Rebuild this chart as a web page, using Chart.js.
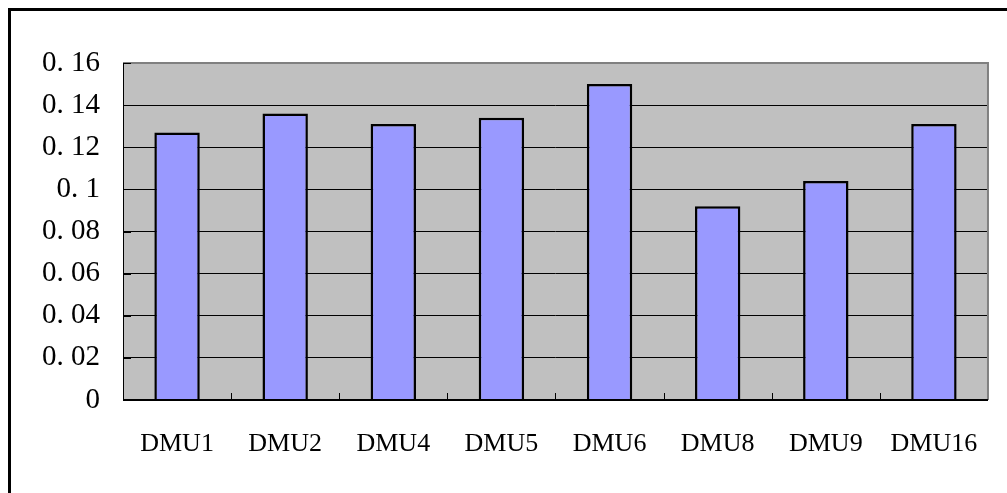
<!DOCTYPE html>
<html><head><meta charset="utf-8">
<script src="https://cdn.jsdelivr.net/npm/chart.js@4/dist/chart.umd.min.js"></script>
<style>html,body{margin:0;padding:0;background:#fff;}#wrap{position:absolute;left:0;top:0;width:1007px;height:493px;}</style>
</head><body><div id="wrap"><canvas id="c" width="1007" height="493"></canvas></div>
<script>
const categories = ['DMU1','DMU2','DMU4','DMU5','DMU6','DMU8','DMU9','DMU16'];
const values = [0.127, 0.136, 0.131, 0.134, 0.150, 0.092, 0.104, 0.131];
const yTickLabels = ['0','0. 02','0. 04','0. 06','0. 08','0. 1','0. 12','0. 14','0. 16'];

const decor = {
  id: 'decor',
  beforeDraw(chart) {
    const {ctx, chartArea: a} = chart;
    ctx.save();
    ctx.fillStyle = '#C0C0C0';
    ctx.fillRect(a.left, a.top, a.right - a.left, a.bottom - a.top);
    ctx.restore();
  },
  afterDatasetsDraw(chart) {
    const {ctx, chartArea: a, scales} = chart;
    ctx.save();
    ctx.strokeStyle = '#808080';
    ctx.lineWidth = 2;
    ctx.beginPath();
    ctx.moveTo(a.left, a.top); ctx.lineTo(a.right, a.top); ctx.lineTo(a.right, a.bottom);
    ctx.stroke();
    ctx.strokeStyle = '#000';
    ctx.lineWidth = 1;
    ctx.beginPath();
    ctx.moveTo(a.left + 0.5, a.top); ctx.lineTo(a.left + 0.5, a.bottom);
    ctx.stroke();
    ctx.lineWidth = 2;
    ctx.beginPath();
    ctx.moveTo(a.left, a.bottom); ctx.lineTo(a.right, a.bottom);
    ctx.stroke();
    ctx.lineWidth = 1;
    ctx.beginPath();
    const xs = scales.x;
    for (let i = 1; i < categories.length; i++) {
      const px = Math.round((xs.getPixelForTick(i - 1) + xs.getPixelForTick(i)) / 2) + 0.5;
      ctx.moveTo(px, a.bottom); ctx.lineTo(px, a.bottom - 7);
    }
    const ys = scales.y;
    ys.ticks.forEach(t => {
      const py = Math.round(ys.getPixelForValue(t.value)) + 0.5;
      ctx.moveTo(a.left, py); ctx.lineTo(a.left + 8, py);
    });
    ctx.stroke();
    ctx.lineWidth = 3;
    ctx.strokeRect(9.5, 9.5, 1020, 520);
    ctx.restore();
  }
};

new Chart(document.getElementById('c'), {
  type: 'bar',
  data: {
    labels: categories,
    datasets: [{
      data: values,
      backgroundColor: '#9999FF',
      borderColor: '#000000',
      borderWidth: 2.5,
      borderSkipped: 'bottom',
      barPercentage: 0.42,
      categoryPercentage: 1.0
    }]
  },
  options: {
    responsive: false,
    animation: false,
    devicePixelRatio: 1,
    layout: { padding: { left: 0, top: 63, right: 12, bottom: 0 } },
    plugins: { legend: { display: false }, tooltip: { enabled: false } },
    scales: {
      x: {
        grid: { display: false, drawTicks: false },
        border: { display: false },
        ticks: { color: '#000', padding: 29, font: { family: 'Liberation Serif', size: 26 } },
        afterFit(s) { s.height = 93; }
      },
      y: {
        min: 0, max: 0.16,
        grid: { color: '#000', lineWidth: 1, drawTicks: false },
        border: { display: false },
        ticks: {
          stepSize: 0.02, color: '#000', padding: 23,
          font: { family: 'Liberation Serif', size: 29 },
          callback: (v, i) => yTickLabels[i]
        },
        afterFit(s) { s.width = 123; }
      }
    }
  },
  plugins: [decor]
});
</script></body></html>
